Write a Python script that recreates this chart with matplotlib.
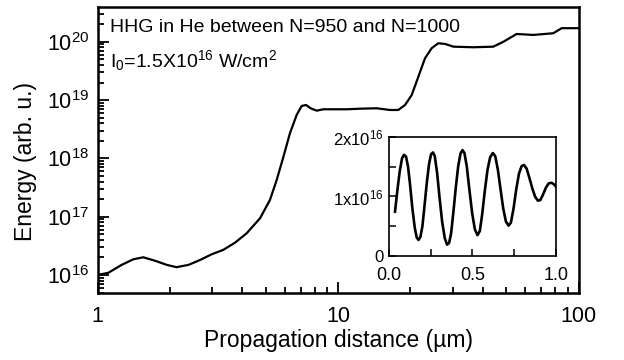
import matplotlib
matplotlib.use("Agg")
import matplotlib.pyplot as plt
from matplotlib.ticker import LogLocator, FixedLocator, NullFormatter
import numpy as np

plt.rcParams['font.family'] = ['Liberation Sans', 'DejaVu Sans']
plt.rcParams['mathtext.fontset'] = 'custom'
plt.rcParams['mathtext.rm'] = 'Liberation Sans'
plt.rcParams['mathtext.it'] = 'Liberation Sans'
plt.rcParams['mathtext.bf'] = 'Liberation Sans:bold'
plt.rcParams['mathtext.sf'] = 'Liberation Sans'

# Main curve: propagation distance (um) vs energy (arb. u.)
dist_um = [1.0, 1.109, 1.26, 1.41, 1.55, 1.73, 1.94, 2.13, 2.39, 2.67, 2.98, 3.33,
           3.73, 4.17, 4.74, 5.21, 5.56, 5.93, 6.31, 6.73, 7.06, 7.36, 7.70, 8.15,
           8.68, 9.55, 10.87, 12.34, 14.48, 16.45, 17.81, 19.0, 20.25, 21.58, 23.0,
           24.5, 26.1, 27.9, 30.2, 36.5, 44.2, 48.7, 55.3, 64.9, 78.5, 85.1, 100.0]
energy = [1.0e16, 1.09e16, 1.49e16, 1.86e16, 2.01e16, 1.76e16, 1.49e16, 1.36e16,
          1.49e16, 1.81e16, 2.26e16, 2.69e16, 3.58e16, 5.19e16, 9.4e16, 1.93e17,
          4.27e17, 1.07e18, 2.69e18, 5.55e18, 7.92e18, 8.24e18, 7.23e18, 6.58e18,
          6.95e18, 6.95e18, 6.95e18, 7.11e18, 7.23e18, 6.76e18, 6.76e18, 8.24e18,
          1.22e19, 2.52e19, 5.21e19, 7.74e19, 9.42e19, 9.17e19, 8.24e19, 8.05e19,
          8.24e19, 1.0e20, 1.36e20, 1.31e20, 1.40e20, 1.71e20, 1.71e20]

# Inset curve: distance (um, 0-1) vs energy (units of 1e16)
inset_x = [0.036, 0.050, 0.064, 0.078, 0.090, 0.102, 0.114, 0.126, 0.140, 0.154,
           0.166, 0.177, 0.188, 0.200, 0.213, 0.226, 0.240, 0.252, 0.263, 0.274,
           0.288, 0.302, 0.318, 0.334, 0.348, 0.360, 0.372, 0.386, 0.400, 0.414,
           0.428, 0.440, 0.452, 0.466, 0.482, 0.498, 0.514, 0.530, 0.544, 0.558,
           0.574, 0.590, 0.606, 0.622, 0.636, 0.652, 0.668, 0.684, 0.700, 0.716,
           0.730, 0.746, 0.762, 0.778, 0.794, 0.808, 0.824, 0.842, 0.860, 0.876,
           0.892, 0.906, 0.922, 0.940, 0.956, 0.972, 0.986, 0.998]
inset_y = [0.745, 1.10, 1.42, 1.64, 1.70, 1.67, 1.50, 1.20, 0.80, 0.48,
           0.31, 0.27, 0.32, 0.50, 0.85, 1.22, 1.55, 1.71, 1.74, 1.68,
           1.40, 1.00, 0.58, 0.30, 0.19, 0.22, 0.38, 0.75, 1.15, 1.50,
           1.72, 1.78, 1.73, 1.50, 1.10, 0.72, 0.45, 0.35, 0.42, 0.70,
           1.10, 1.45, 1.66, 1.73, 1.68, 1.45, 1.12, 0.80, 0.58, 0.51,
           0.56, 0.80, 1.12, 1.38, 1.51, 1.53, 1.47, 1.30, 1.12, 0.99,
           0.93, 0.94, 1.03, 1.15, 1.22, 1.23, 1.21, 1.17]

inset_yticks = [0, 1, 2]
inset_yticklabels = ['0', r'$\mathregular{1x10^{16}}$', r'$\mathregular{2x10^{16}}$']
inset_xticks = [0.0, 0.5, 1.0]
inset_xticklabels = ['0.0', '0.5', '1.0']

fig = plt.figure(figsize=(6.24, 3.6), dpi=100)
ax = fig.add_axes([0.1563, 0.1853, 0.7708, 0.7944])
ax.plot(dist_um, energy, color='black', lw=1.6)
ax.set_xscale('log')
ax.set_yscale('log')
ax.set_xlim(1, 100)
ax.set_ylim(4.85e15, 3.9e20)
ax.yaxis.set_major_locator(LogLocator(base=10, numticks=10))
ax.yaxis.set_minor_locator(LogLocator(base=10, subs=np.arange(2, 10), numticks=20))
ax.yaxis.set_minor_formatter(NullFormatter())
ax.set_xticks([1, 10, 100])
ax.set_xticklabels(['1', '10', '100'])
ax.xaxis.set_minor_formatter(NullFormatter())
ax.tick_params(which='both', direction='in', top=False, right=False, width=1.3)
ax.tick_params(which='major', length=8, labelsize=15.5)
ax.tick_params(which='minor', length=4.5)
ax.tick_params(axis='x', which='major', pad=9)
ax.tick_params(axis='y', which='major', pad=6)
for s in ax.spines.values():
    s.set_linewidth(1.8)
ax.set_xlabel('Propagation distance (\u00b5m)', fontsize=16.5)
ax.set_ylabel('Energy (arb. u.)', fontsize=16.5)
ax.xaxis.set_label_coords(0.502, -0.125)
ax.yaxis.set_label_coords(-0.125, 0.46)

ax.text(0.026, 0.931, 'HHG in He between N=950 and N=1000', transform=ax.transAxes,
        fontsize=14, va='center', ha='left')
ax.text(0.026, 0.815, r'I$_\mathregular{0}$=1.5X10$^\mathregular{16}$ W/cm$^\mathregular{2}$',
        transform=ax.transAxes, fontsize=14, va='center', ha='left')

ins = fig.add_axes([0.6234, 0.2889, 0.2676, 0.3306])
ins.plot(inset_x, inset_y, color='black', lw=1.9)
ins.set_xlim(0, 1.0)
ins.set_ylim(0, 2.0)
ins.set_xticks(inset_xticks)
ins.set_xticklabels(inset_xticklabels)
ins.set_yticks(inset_yticks)
ins.set_yticklabels(inset_yticklabels)
ins.xaxis.set_minor_locator(FixedLocator([0.25, 0.75]))
ins.yaxis.set_minor_locator(FixedLocator([0.5, 1.5]))
ins.tick_params(which='both', direction='in', top=False, right=False, width=1.1)
ins.tick_params(which='major', length=5, labelsize=12)
ins.tick_params(axis='x', which='major', labelsize=13, pad=8)
ins.tick_params(which='minor', length=5)
ins.tick_params(axis='y', pad=4)
for s in ins.spines.values():
    s.set_linewidth(1.2)

fig.savefig('out.png', dpi=100)
